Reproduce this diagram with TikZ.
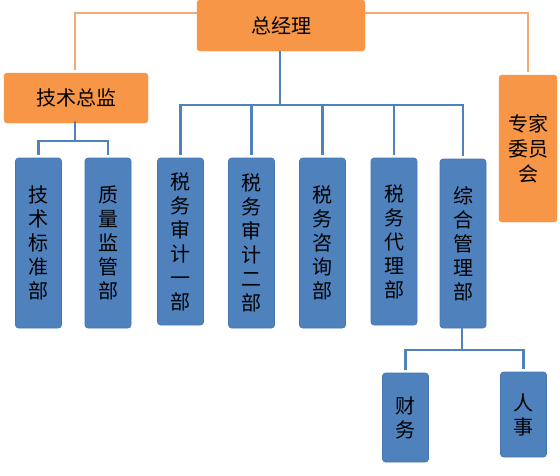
\documentclass[tikz,border=0pt]{standalone}
\usepackage{fontspec}
\usetikzlibrary{calc}
\newfontfamily\cjk{Noto Sans CJK SC}
\definecolor{orgfill}{HTML}{F79646}
\definecolor{orgline}{HTML}{F6A96E}
\definecolor{bluefill}{HTML}{4F81BD}
\definecolor{blueline}{HTML}{4F81BD}
\definecolor{blueedge}{HTML}{4676B0}
\tikzset{
  obox/.style={fill=orgfill, draw=orgfill, rounded corners=3pt, inner sep=0pt,
    font=\cjk\fontsize{20}{25}\selectfont, align=center},
  bbox/.style={fill=bluefill, draw=blueedge, line width=0.6pt, rounded corners=3pt, inner sep=0pt,
    minimum width=46pt, font=\cjk\fontsize{20}{24}\selectfont, align=center},
  oline/.style={draw=orgline, line width=2.2pt},
  bline/.style={draw=blueline, line width=2.6pt},
}
\begin{document}
\begin{tikzpicture}[x=1pt,y=-1pt]
\useasboundingbox (0,0) rectangle (560,475);
% orange boxes
\node[obox, minimum width=168pt, minimum height=51pt] (boss) at (281,25.5) {总经理};
\node[obox, minimum width=144pt, minimum height=50pt] (tech) at (76,98) {技术总监};
\node[obox, minimum width=58pt, minimum height=147pt] (expert) at (528,148.5) {专家\\委员\\会};
% blue boxes
\node[bbox, minimum height=170pt] (A) at (38.5,243) {技\\术\\标\\准\\部};
\node[bbox, minimum height=170pt] (B) at (108,243) {质\\量\\监\\管\\部};
\node[bbox, minimum height=167pt] (C) at (180.5,241.5) {税\\务\\审\\计\\一\\部};
\node[bbox, minimum height=170pt] (D) at (251.5,243) {税\\务\\审\\计\\二\\部};
\node[bbox, minimum height=170pt] (E) at (322.5,243) {税\\务\\咨\\询\\部};
\node[bbox, minimum height=167pt] (F) at (394,241.5) {税\\务\\代\\理\\部};
\node[bbox, minimum height=169pt] (G) at (463,243.5) {综\\合\\管\\理\\部};
\node[bbox, minimum height=89pt] (H) at (405.5,417.5) {财\\务};
\node[bbox, minimum height=85pt] (I) at (523.5,414.5) {人\\事};
% orange connectors
\draw[oline] ($(boss.north west)+(0,13)$) -| ($(tech.north)+(-1,-3)$);
\draw[oline] ($(boss.north east)+(0,13)$) -| ($(expert.north)+(0,-3)$);
% blue connectors
\coordinate (j1) at (280,105);
\coordinate (j2) at (75,141);
\coordinate (j3) at (462,350);
\draw[bline] ($(boss.south)+(-1,0)$) -- (j1);
\foreach \n in {C,D,E,F,G} {
  \draw[bline, shorten >=3pt] (j1) -| (\n.north);
}
\draw[bline] ($(tech.south)+(-1,-2)$) -- (j2);
\foreach \n in {A,B} {
  \draw[bline, shorten >=3pt] (j2) -| (\n.north);
}
\draw[bline] ($(G.south)+(-1,0)$) -- (j3);
\foreach \n in {H,I} {
  \draw[bline, shorten >=3pt] (j3) -| (\n.north);
}
\end{tikzpicture}
\end{document}
